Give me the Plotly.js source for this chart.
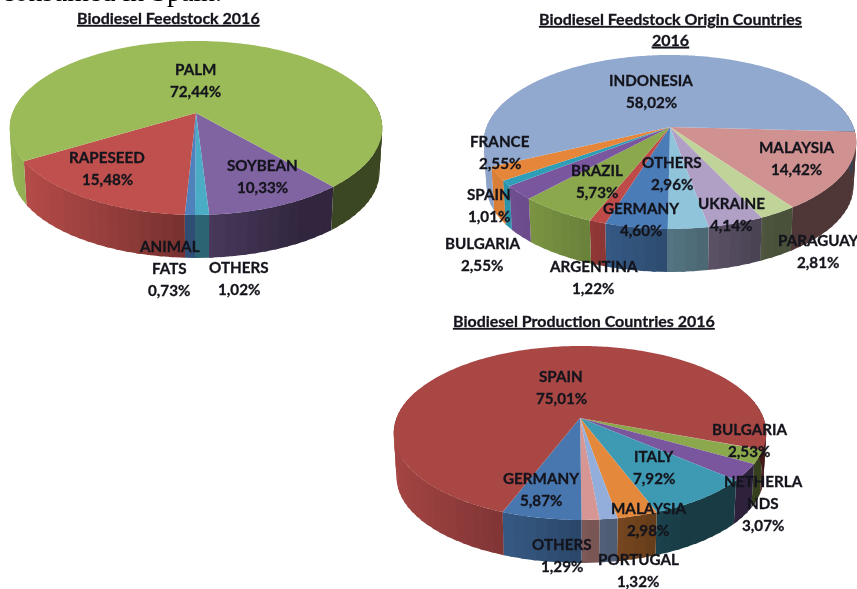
<!DOCTYPE html>
<html><head><meta charset="utf-8">
<script src="https://cdn.plot.ly/plotly-3.0.0.min.js"></script>
<style>html,body{margin:0;padding:0;background:#fff}#c{width:857px;height:589px;filter:blur(0.45px)}
.annotation-text{stroke:#14141c;stroke-width:0.3px}
.annotation:last-child .annotation-text{stroke:none}</style>
</head><body><div id="c"></div>
<script>
// ---- data ----
const feedstockTitle = 'Biodiesel Feedstock 2016';
const feedstockNames = ['SOYBEAN','OTHERS','ANIMAL<br>FATS','RAPESEED','PALM'];
const feedstockValues = [10.33,1.02,0.73,15.48,72.44];
const feedstockColors = ['#8064A2','#4BACC6','#4F81BD','#C0504D','#9BBB59'];
const feedstockLabelX = [262,239,169,107,195];
const feedstockLabelY = [176,278,268,168,80];

const originTitle = 'Biodiesel Feedstock Origin Countries<br>2016';
const originNames = ['MALAYSIA','PARAGUAY','UKRAINE','OTHERS','GERMANY','ARGENTINA','BRAZIL','BULGARIA','SPAIN','FRANCE','INDONESIA'];
const originValues = [14.42,2.81,4.14,2.96,4.60,1.22,5.73,2.55,1.01,2.55,58.02];
const originColors = ['#D09291','#C0D49A','#B1A0C6','#8FC4DB','#4A7CB8','#BE4B48','#8BA94C','#7A569E','#2F9FB8','#E6863A','#92A9CF'];
const originLabelX = [796,818,731,672,641,593,597,482,489,500,651];
const originLabelY = [158,251,214,173,219,277,181,254,205,152,91];

const productionTitle = 'Biodiesel Production Countries 2016';
const productionNames = ['BULGARIA','NETHERLA<br>NDS','ITALY','MALAYSIA','PORTUGAL','OTHERS','GERMANY','SPAIN'];
const productionValues = [2.53,3.07,7.92,2.98,1.32,1.29,5.87,75.01];
const productionColors = ['#8BA94C','#7A569E','#3E9AB2','#E4893C','#93AEDA','#D69694','#4877B0','#A94745'];
const productionLabelX = [749,763,654,648,638,562,541,561];
const productionLabelY = [440,503,467,519,570,555,489,387];

// ---- drawing setup ----
const pies = [
  {names:feedstockNames, values:feedstockValues, colors:feedstockColors, lx:feedstockLabelX, ly:feedstockLabelY, start:139.4, cx:196, ay:113,
   title:feedstockTitle, tx:168, ty:17},
  {names:originNames, values:originValues, colors:originColors, lx:originLabelX, ly:originLabelY, start:93.0, cx:670, ay:127,
   title:originTitle, tx:670, ty:29},
  {names:productionNames, values:productionValues, colors:productionColors, lx:productionLabelX, ly:productionLabelY, start:110.8, cx:580, ay:418,
   title:productionTitle, tx:584, ty:320}
];
const K = 0.172, H = 84.4, R = 183.5, DEPTH = 43, SHRINK = 0.985, LINE_GAP = 21.6;
const rad = d => d*Math.PI/180;
function project(p, ang, bottom){
  const X = Math.sin(rad(ang)), Z = Math.cos(rad(ang)), s = 1/(1+K*Z);
  const f = bottom ? SHRINK : 1;
  const dy = bottom ? DEPTH + (H/(1-K))*(1-SHRINK) : 0;
  return [p.cx + R*f*X*s, p.ay + dy - H*f*Z*s];
}
function shade(hex, f){
  const n = parseInt(hex.slice(1),16);
  return 'rgb('+[(n>>16)&255,(n>>8)&255,n&255].map(c=>Math.round(c*f)).join(',')+')';
}
function poly(xs, ys, color){
  return {type:'scatter', mode:'none', x:xs, y:ys, fill:'toself', fillcolor:color,
          hoverinfo:'skip', showlegend:false};
}
const wallTraces = [], topTraces = [], annotations = [];
const textFont = {family:'Lato, sans-serif', size:15.2, color:'#14141c', weight:700};
for (const p of pies){
  let a = p.start;
  p.values.forEach((v,i)=>{
    const b = a + 360*v/100;
    // wall, cut into narrow strips so it can darken from left to right
    const STEP = 3;
    for (let t=a; t<b-1e-6; t+=STEP){
      const u = Math.min(t+STEP,b), mid=(t+u)/2, m=((mid%360)+360)%360;
      if (m<72 || m>288) continue;
      const over = Math.min(u+1.2, b);
      const top1=project(p,t,false), top2=project(p,over,false), bot1=project(p,t,true), bot2=project(p,over,true);
      const pos = (project(p,t,false)[0]+project(p,u,false)[0])/2;
      const tt = (pos-(p.cx-R*1.015))/(2*R*1.015);
      const f = Math.max(0.38, 0.97-0.75*tt);
      wallTraces.push(poly([top1[0],top2[0],bot2[0],bot1[0],top1[0]],[top1[1],top2[1],bot2[1],bot1[1],top1[1]],shade(p.colors[i],f)));
    }
    // top face
    const xs=[p.cx], ys=[p.ay];
    for (let t=a;; t+=1){ const q=project(p,Math.min(t,b),false); xs.push(q[0]); ys.push(q[1]); if(t>=b) break; }
    xs.push(p.cx); ys.push(p.ay);
    topTraces.push(poly(xs,ys,p.colors[i]));
    // label: one annotation per line, so the line spacing can follow the picture
    const lines = p.names[i].split('<br>').concat([v.toFixed(2).replace('.',',')+'%']);
    lines.forEach((line,j)=>{
      annotations.push({x:p.lx[i], y:p.ly[i]+(j-(lines.length-1)/2)*LINE_GAP, xref:'x', yref:'y', showarrow:false,
        text:line, font:textFont});
    });
    a = b;
  });
  annotations.push({x:p.tx, y:p.ty, xref:'x', yref:'y', showarrow:false, align:'center',
    text:'<u>'+p.title.split('<br>').join('</u><br><u>')+'</u>', font:{family:'Lato, sans-serif', size:16, color:'#14141c', weight:700}});
}
annotations.push({x:0, y:0, xref:'x', yref:'y', xanchor:'left', yanchor:'middle', yshift:9, showarrow:false,
  text:'consumed in Spain.', font:{family:'Liberation Serif, serif', size:28, color:'#000'}});

Plotly.newPlot('c', wallTraces.concat(topTraces), {
  width:857, height:589, margin:{l:0,r:0,t:0,b:0}, paper_bgcolor:'#fff', plot_bgcolor:'#fff', showlegend:false,
  xaxis:{range:[0,857], visible:false, fixedrange:true},
  yaxis:{range:[589,0], visible:false, fixedrange:true},
  annotations:annotations
}, {staticPlot:true, displayModeBar:false});
</script></body></html>
